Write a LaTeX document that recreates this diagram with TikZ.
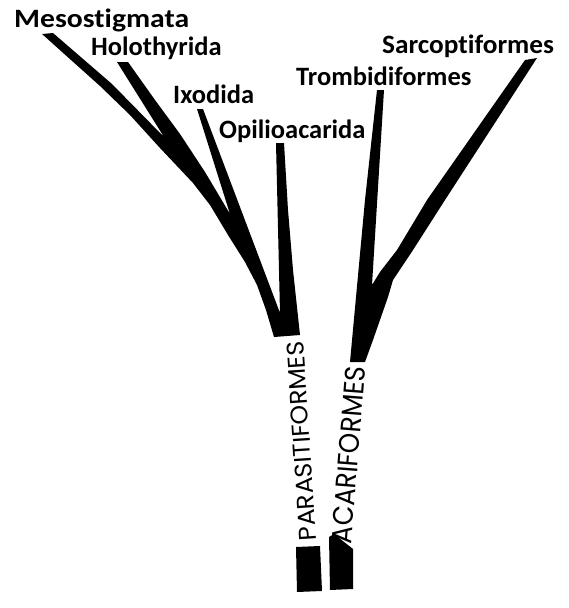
\documentclass[tikz,border=0pt]{standalone}
\usepackage{fontspec}
\setmainfont{Carlito}[Ligatures=NoCommon]
\newfontfamily\trunkfont{Poppins}
\begin{document}
\begin{tikzpicture}[x=1pt,y=-1pt,
  lbl/.style={font=\fontsize{26.5}{26.5}\selectfont\bfseries, anchor=base west, inner sep=0pt},
  trunk/.style={inner sep=0pt},
  branch/.style={fill=black, draw=none}]
\useasboundingbox (0,0) rectangle (569,608);
% Parasitiformes branches
\fill[branch] (42,34) -- (53,33) -- (112,84) -- (164,137)
  -- (117,62) -- (128,62) -- (155,100) -- (180,134) -- (205,172) -- (230,214)
  -- (197,109) -- (203,109) -- (280,313)
  -- (276,143) -- (284,143) -- (288,210) -- (293,270) -- (300,335)
  -- (274,337) -- (266,310) -- (257,285) -- (245,262) -- (228,235) -- (210,205)
  -- (193,183) -- (160,148) -- (130,115) -- (100,86) -- cycle;
% Parasitiformes lower block
\fill[branch] (296,547) -- (320,546) -- (322,591) -- (297,592) -- cycle;
% Acariformes branches
\fill[branch] (377,90) -- (384,90) -- (372,285)
  -- (380,272) -- (397,250) -- (427,200) -- (525,60)
  -- (537,58) -- (445,200) -- (413,250) -- (393,280) -- (388,297) -- (373,340) -- (365,362)
  -- (350,362) -- (365,200) -- cycle;
% Acariformes lower block
\fill[branch] (329,537) -- (334,534) -- (353,549) -- (353,589) -- (330,590) -- cycle;
% trunk labels
\node[trunk, rotate=93.8] (parasiti) at (301.5,441) {\resizebox{200pt}{17pt}{\trunkfont PARASITIFORMES}};
\node[trunk, rotate=85.6] (acari) at (348.5,455) {\resizebox{178pt}{20pt}{\trunkfont ACARIFORMES}};
% branch labels
\node[lbl, xscale=1.12] (meso) at (14,27) {Mesostigmata};
\node[lbl] (holo) at (91,55) {Holothyrida};
\node[lbl] (ixo) at (173,103) {Ixodida};
\node[lbl] (opi) at (219,138) {Opilioacarida};
\node[lbl] (trom) at (296,85) {Trombidiformes};
\node[lbl, xscale=1.03] (sarc) at (382,53) {Sarcoptiformes};
\end{tikzpicture}
\end{document}
